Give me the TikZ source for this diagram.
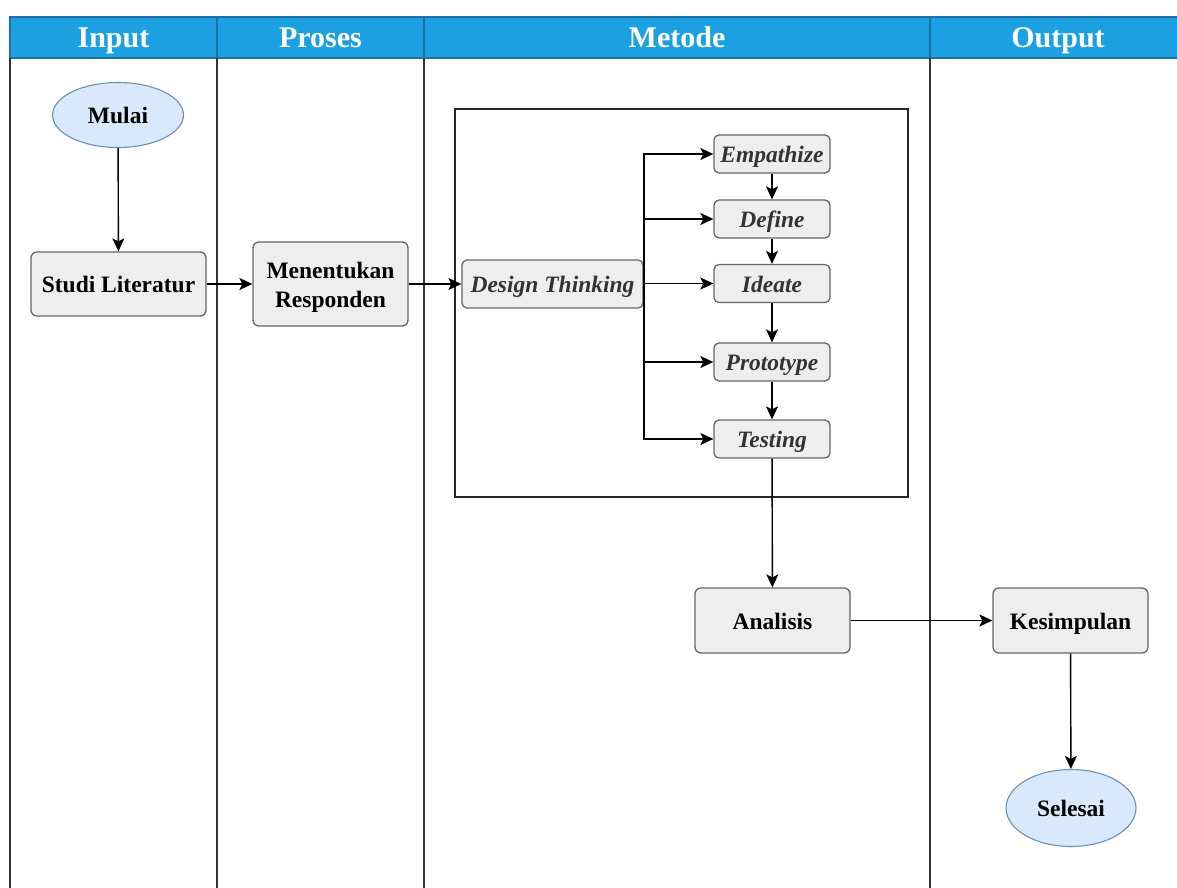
\documentclass[tikz,border=0pt]{standalone}
\usepackage{fontspec}
\setmainfont{Liberation Serif}
\usetikzlibrary{arrows.meta,shapes.geometric}
\definecolor{hdrblue}{HTML}{1BA1E2}
\definecolor{hdrline}{HTML}{1E6FA5}
\definecolor{boxfill}{HTML}{EEEEEE}
\definecolor{boxline}{HTML}{666666}
\definecolor{ovalfill}{HTML}{DAE8FC}
\definecolor{ovalline}{HTML}{6C8EBF}
\definecolor{ital}{HTML}{333333}
\tikzset{
  hdr/.style={font=\fontsize{30}{32}\selectfont\bfseries, text=white,
    text height=24pt, text depth=4pt, inner sep=0pt},
  lane/.style={draw=black!80, line width=2pt},
  procbox/.style={draw=boxline, fill=boxfill, line width=1.3pt, rounded corners=6pt,
    font=\fontsize{23.5}{27}\selectfont\bfseries, inner sep=0pt,
    text height=20pt, text depth=3pt},
  stepbox/.style={procbox, rounded corners=5pt, text=ital,
    font=\fontsize{23.5}{27}\selectfont\bfseries\itshape},
  terminal/.style={ellipse, draw=ovalline, fill=ovalfill, line width=1.1pt,
    font=\fontsize{23.5}{27}\selectfont\bfseries, inner sep=0pt,
    text height=20pt, text depth=3pt},
  arr/.style={draw=black, line width=1.4pt, -{Stealth[length=13pt,width=12pt,inset=3pt]}},
}
\begin{document}
\begin{tikzpicture}[x=1pt,y=-1pt]
\useasboundingbox (0,0) rectangle (1177,888);
\fill[white] (0,0) rectangle (1177,888);

% header band
\draw[fill=hdrblue, draw=hdrline, line width=1.2pt] (10,17) rectangle (1185,58);
\foreach \x in {217,424,930} \draw[hdrline, line width=1.2pt] (\x,17) -- (\x,58);
\node[hdr] (hIn)  at (113.5,38) {Input};
\node[hdr] (hPro) at (320.5,38) {Proses};
\node[hdr] (hMet) at (677,38) {Metode};
\node[hdr] (hOut) at (1058,38) {Output};

% lane separators
\foreach \x in {10,217,424,930} \draw[lane] (\x,58) -- (\x,892);

% method container
\draw[draw=black!85, line width=1.4pt] (455,109) rectangle (908,497);

% nodes
\node[terminal, minimum width=131pt, minimum height=65pt] (mulai) at (118,115) {Mulai};
\node[procbox, minimum width=175pt, minimum height=64pt] (studi) at (118.5,284) {Studi Literatur};
\node[procbox, minimum width=155pt, minimum height=84pt, text height=, text depth=] (resp)
  at (330.5,284) {\begin{tabular}{@{}c@{}}\rule{0pt}{27pt}Menentukan\\[2pt]Responden\end{tabular}};
\node[stepbox, minimum width=181pt, minimum height=48pt] (dt) at (552.5,284) {Design Thinking};
\node[stepbox, minimum width=116pt, minimum height=38pt] (emp) at (772,154) {Empathize};
\node[stepbox, minimum width=116pt, minimum height=38pt] (def) at (772,219) {Define};
\node[stepbox, minimum width=116pt, minimum height=38pt] (ide) at (772,283.5) {Ideate};
\node[stepbox, minimum width=116pt, minimum height=38pt] (pro) at (772,362) {Prototype};
\node[stepbox, minimum width=116pt, minimum height=38pt] (tes) at (772,439) {Testing};
\node[procbox, minimum width=155pt, minimum height=65pt] (ana) at (772.5,620.5) {Analisis};
\node[procbox, minimum width=155pt, minimum height=65pt] (kes) at (1070.5,620.5) {Kesimpulan};
\node[terminal, minimum width=130pt, minimum height=77pt] (sel) at (1071,808) {Selesai};

% branch point beside Design Thinking
\coordinate (bus) at (644,284);

% connectors
\draw[arr] (mulai) -- (studi);
\draw[arr] (studi) -- (resp);
\draw[arr] (resp) -- (dt);
\draw[line width=1.4pt] (dt.east) -- (bus);
\foreach \t in {emp,def,ide,pro,tes}
  \draw[arr] (bus) |- (\t.west);
\draw[arr] (emp) -- (def);
\draw[arr] (def) -- (ide);
\draw[arr] (ide) -- (pro);
\draw[arr] (pro) -- (tes);
\draw[arr] (tes) -- (ana);
\draw[arr] (ana) -- (kes);
\draw[arr] (kes) -- (sel);
\end{tikzpicture}
\end{document}
